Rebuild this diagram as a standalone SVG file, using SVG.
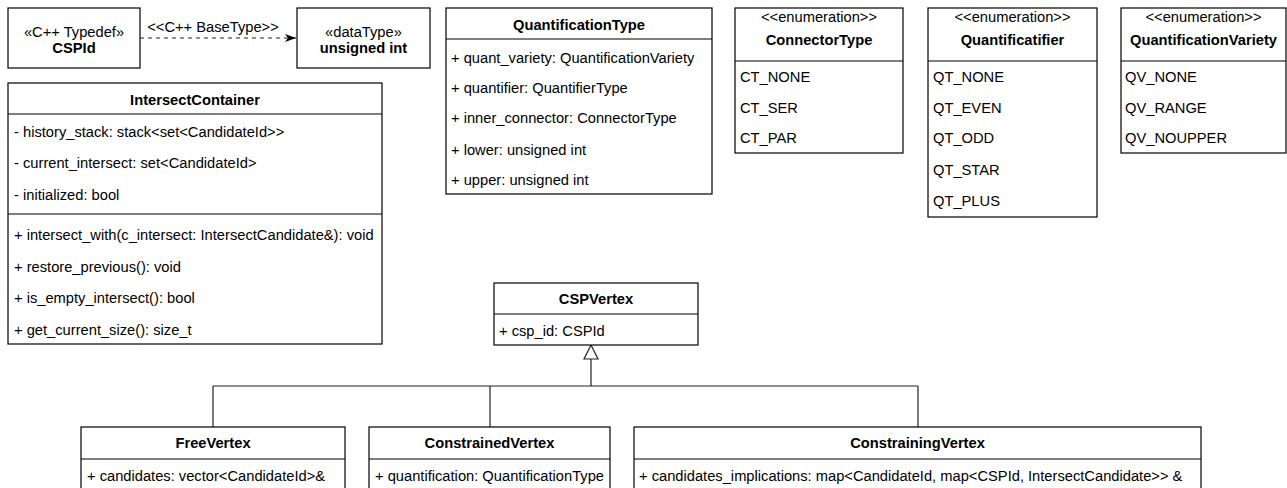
<svg xmlns="http://www.w3.org/2000/svg" width="1287" height="488" viewBox="0 0 1287 488">
<style>
text{font-family:"Liberation Sans",Arial,Helvetica,sans-serif;font-size:14.7px;fill:#000;dominant-baseline:central}
.b{font-weight:bold;text-anchor:middle}
.c{text-anchor:middle}
.box{fill:#fff;stroke:#000;stroke-width:1.2}
.ln{stroke:#000;stroke-width:1.2;fill:none}
.con{stroke:#222;stroke-width:1.2;fill:none}
</style>
<defs>
<marker id="arr" markerWidth="12" markerHeight="10" refX="11" refY="4" orient="auto" markerUnits="userSpaceOnUse">
<path d="M0,0 L11,4 L0,8 L3,4 Z" fill="#000"/>
</marker>
</defs>
<rect width="1287" height="488" fill="#fff"/>

<g id="connectors">
<line class="con" x1="140" y1="38" x2="296" y2="38" stroke-dasharray="4 4" marker-end="url(#arr)"/>
<text class="c" x="213" y="27">&lt;&lt;C++ BaseType&gt;&gt;</text>
<path class="con" d="M591,359 V386 M213,386 H918 M213,386 V427 M490,386 V427 M918,386 V427"/>
<path d="M591,345 L598,359 L584,359 Z" fill="#fff" stroke="#222" stroke-width="1.2"/>
</g>

<g id="CSPId">
<rect class="box" x="8" y="8" width="132" height="60"/>
<text class="c" x="74" y="32">«C++ Typedef»</text>
<text class="b" x="74" y="48">CSPId</text>
</g>

<g id="unsignedInt">
<rect class="box" x="297" y="8" width="133" height="60"/>
<text class="c" x="363.5" y="32">«dataType»</text>
<text class="b" x="363.5" y="48">unsigned int</text>
</g>

<g id="IntersectContainer">
<rect class="box" x="8" y="83" width="374" height="261"/>
<line class="ln" x1="8" y1="114" x2="382" y2="114"/>
<line class="ln" x1="8" y1="214" x2="382" y2="214"/>
<text class="b" x="195" y="100">IntersectContainer</text>
<text x="14" y="132">- history_stack: stack&lt;set&lt;CandidateId&gt;&gt;</text>
<text x="14" y="163">- current_intersect: set&lt;CandidateId&gt;</text>
<text x="14" y="195">- initialized: bool</text>
<text x="14" y="235">+ intersect_with(c_intersect: IntersectCandidate&amp;): void</text>
<text x="14" y="267">+ restore_previous(): void</text>
<text x="14" y="298">+ is_empty_intersect(): bool</text>
<text x="14" y="330">+ get_current_size(): size_t</text>
</g>

<g id="QuantificationType">
<rect class="box" x="446" y="8" width="266" height="186"/>
<line class="ln" x1="446" y1="39" x2="712" y2="39"/>
<text class="b" x="579" y="25">QuantificationType</text>
<text x="451" y="58">+ quant_variety: QuantificationVariety</text>
<text x="451" y="88">+ quantifier: QuantifierType</text>
<text x="451" y="118">+ inner_connector: ConnectorType</text>
<text x="451" y="150">+ lower: unsigned int</text>
<text x="451" y="180">+ upper: unsigned int</text>
</g>

<g id="ConnectorType">
<rect class="box" x="735" y="8" width="168" height="145"/>
<line class="ln" x1="735" y1="61" x2="903" y2="61"/>
<text class="c" x="819" y="17">&lt;&lt;enumeration&gt;&gt;</text>
<text class="b" x="819" y="40">ConnectorType</text>
<text x="740" y="77">CT_NONE</text>
<text x="740" y="108">CT_SER</text>
<text x="740" y="138">CT_PAR</text>
</g>

<g id="Quantificatifier">
<rect class="box" x="928" y="8" width="169" height="209"/>
<line class="ln" x1="928" y1="61" x2="1097" y2="61"/>
<text class="c" x="1012.5" y="17">&lt;&lt;enumeration&gt;&gt;</text>
<text class="b" x="1012.5" y="40">Quantificatifier</text>
<text x="933" y="77">QT_NONE</text>
<text x="933" y="108">QT_EVEN</text>
<text x="933" y="138">QT_ODD</text>
<text x="933" y="170">QT_STAR</text>
<text x="933" y="201">QT_PLUS</text>
</g>

<g id="QuantificationVariety">
<rect class="box" x="1121" y="8" width="165" height="145"/>
<line class="ln" x1="1121" y1="61" x2="1286" y2="61"/>
<text class="c" x="1203.5" y="17">&lt;&lt;enumeration&gt;&gt;</text>
<text class="b" x="1203.5" y="40">QuantificationVariety</text>
<text x="1125" y="77">QV_NONE</text>
<text x="1125" y="108">QV_RANGE</text>
<text x="1125" y="138">QV_NOUPPER</text>
</g>

<g id="CSPVertex">
<rect class="box" x="494" y="283" width="204" height="62"/>
<line class="ln" x1="494" y1="314" x2="698" y2="314"/>
<text class="b" x="596" y="299">CSPVertex</text>
<text x="499" y="331">+ csp_id: CSPId</text>
</g>

<g id="FreeVertex">
<rect class="box" x="81" y="427" width="264" height="70"/>
<line class="ln" x1="81" y1="459" x2="345" y2="459"/>
<text class="b" x="213" y="443">FreeVertex</text>
<text x="87" y="476">+ candidates: vector&lt;CandidateId&gt;&amp;</text>
</g>

<g id="ConstrainedVertex">
<rect class="box" x="369" y="427" width="241" height="70"/>
<line class="ln" x1="369" y1="459" x2="610" y2="459"/>
<text class="b" x="489.5" y="443">ConstrainedVertex</text>
<text x="375" y="476">+ quantification: QuantificationType</text>
</g>

<g id="ConstrainingVertex">
<rect class="box" x="634" y="427" width="567" height="70"/>
<line class="ln" x1="634" y1="459" x2="1201" y2="459"/>
<text class="b" x="917.5" y="443">ConstrainingVertex</text>
<text x="639" y="476">+ candidates_implications: map&lt;CandidateId, map&lt;CSPId, IntersectCandidate&gt;&gt; &amp;</text>
</g>
</svg>
